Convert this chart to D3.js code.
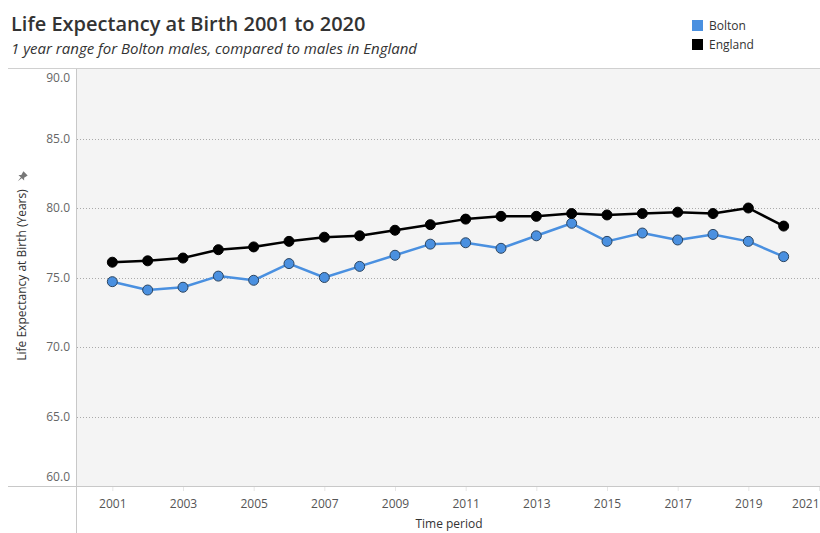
<!DOCTYPE html>
<html><head><meta charset="utf-8">
<script src="https://cdn.jsdelivr.net/npm/d3@7"></script>
<style>body{margin:0;background:#fff;}svg{display:block;font-family:"Open Sans",sans-serif;}</style>
</head><body><svg id="c" width="820" height="533"></svg>
<script>
const years = [2001,2002,2003,2004,2005,2006,2007,2008,2009,2010,2011,2012,2013,2014,2015,2016,2017,2018,2019,2020];
const bolton = [74.7,74.1,74.3,75.1,74.8,76.0,75.0,75.8,76.6,77.4,77.5,77.1,78.0,78.9,77.6,78.2,77.7,78.1,77.6,76.5];
const england = [76.1,76.2,76.4,77.0,77.2,77.6,77.9,78.0,78.4,78.8,79.2,79.4,79.4,79.6,79.5,79.6,79.7,79.6,80.0,78.7];
const yTicks = [60,65,70,75,80,85,90];
const xTicks = [2001,2003,2005,2007,2009,2011,2013,2015,2017,2019,2021];
const seriesNames = ["Bolton","England"];
const colors = {Bolton:"#4a90e0", England:"#000000"};

const svg = d3.select("#c");
const L=77, R=819, T=69, B=486;
const x = d3.scaleLinear().domain([2000,2021]).range([L,R]);
const y = d3.scaleLinear().domain([60,90]).range([B,T]);

// title
svg.append("text").attr("x",11).attr("y",31).attr("font-size",20).attr("font-weight",600).attr("fill","#333").text("Life Expectancy at Birth 2001 to 2020");
svg.append("text").attr("x",11).attr("y",54).attr("font-size",15).attr("font-style","italic").attr("fill","#333").text("1 year range for Bolton males, compared to males in England");

// legend
seriesNames.forEach((n,i)=>{
  const g = svg.append("g").attr("transform",`translate(692,${20+i*19})`);
  g.append("rect").attr("width",11).attr("height",11).attr("fill",colors[n]);
  g.append("text").attr("x",17).attr("y",10).attr("font-size",12).attr("fill","#333").text(n);
});

// plot bg
svg.append("rect").attr("x",L).attr("y",T).attr("width",R-L+1).attr("height",B-T).attr("fill","#f4f4f4");

// grid
svg.append("g").selectAll("line").data(yTicks.filter(d=>d>60&&d<90)).join("line")
  .attr("x1",L).attr("x2",R+1).attr("y1",d=>Math.round(y(d))+0.5).attr("y2",d=>Math.round(y(d))+0.5)
  .attr("stroke","#aaa").attr("stroke-dasharray","1,2");

// frame lines
svg.append("line").attr("x1",8).attr("x2",820).attr("y1",68.5).attr("y2",68.5).attr("stroke","#d0d0d0");
svg.append("line").attr("x1",8).attr("x2",820).attr("y1",B+0.5).attr("y2",B+0.5).attr("stroke","#c8c8c8");
svg.append("line").attr("x1",L-0.5).attr("x2",L-0.5).attr("y1",T).attr("y2",533).attr("stroke","#c8c8c8");

// y axis labels
const yAxis = d3.axisLeft(y).tickValues(yTicks).tickFormat(d3.format(".1f")).tickSize(0).tickPadding(0);
const ya = svg.append("g").attr("transform",`translate(70,0)`).call(yAxis);
ya.select(".domain").remove();
ya.selectAll("text").attr("font-size",12).attr("fill","#666").attr("font-family","Open Sans, sans-serif")
  .attr("dy",d=>d===60?"-0.45em":"0.32em")
  .attr("transform",d=>d===90?"translate(0,9)":"");

// x axis
const xAxis = d3.axisBottom(x).tickValues(xTicks).tickFormat(d3.format("d")).tickSize(4).tickPadding(8);
const xa = svg.append("g").attr("transform",`translate(0,${B+1})`).call(xAxis);
xa.select(".domain").remove();
xa.selectAll("line").attr("stroke","#e6e6e6");
xa.selectAll("text").attr("font-size",12).attr("fill","#555").attr("font-family","Open Sans, sans-serif")
  .attr("text-anchor",d=>d===2021?"end":"middle");
svg.append("text").attr("x",449).attr("y",528).attr("text-anchor","middle").attr("font-size",12).attr("fill","#333").text("Time period");

// y title
svg.append("text").attr("transform","translate(26,275) rotate(-90)").attr("text-anchor","middle")
  .attr("font-size",12).attr("fill","#333").text("Life Expectancy at Birth (Years)");
// pin icon
svg.append("path").attr("transform","translate(22,177) rotate(45)")
  .attr("d","M-3,-5 L3,-5 L2,-1 L4,1 L-4,1 L-2,-1 Z M-0.6,1 L0.6,1 L0,6 Z").attr("fill","#777");

// lines
const data = {Bolton:bolton, England:england};
const line = d3.line().x((d,i)=>x(years[i])).y(d=>y(d));
["Bolton","England"].forEach(n=>{
  svg.append("path").datum(data[n]).attr("d",line).attr("fill","none").attr("stroke",colors[n]).attr("stroke-width",2.5).attr("stroke-linejoin","round");
});
["Bolton","England"].forEach(n=>{
  svg.append("g").selectAll("circle").data(data[n]).join("circle")
    .attr("cx",(d,i)=>x(years[i])).attr("cy",d=>y(d)).attr("r",5)
    .attr("fill",colors[n]).attr("stroke",n==="Bolton"?"#2c4560":"#000").attr("stroke-width",1);
});
</script></body></html>
